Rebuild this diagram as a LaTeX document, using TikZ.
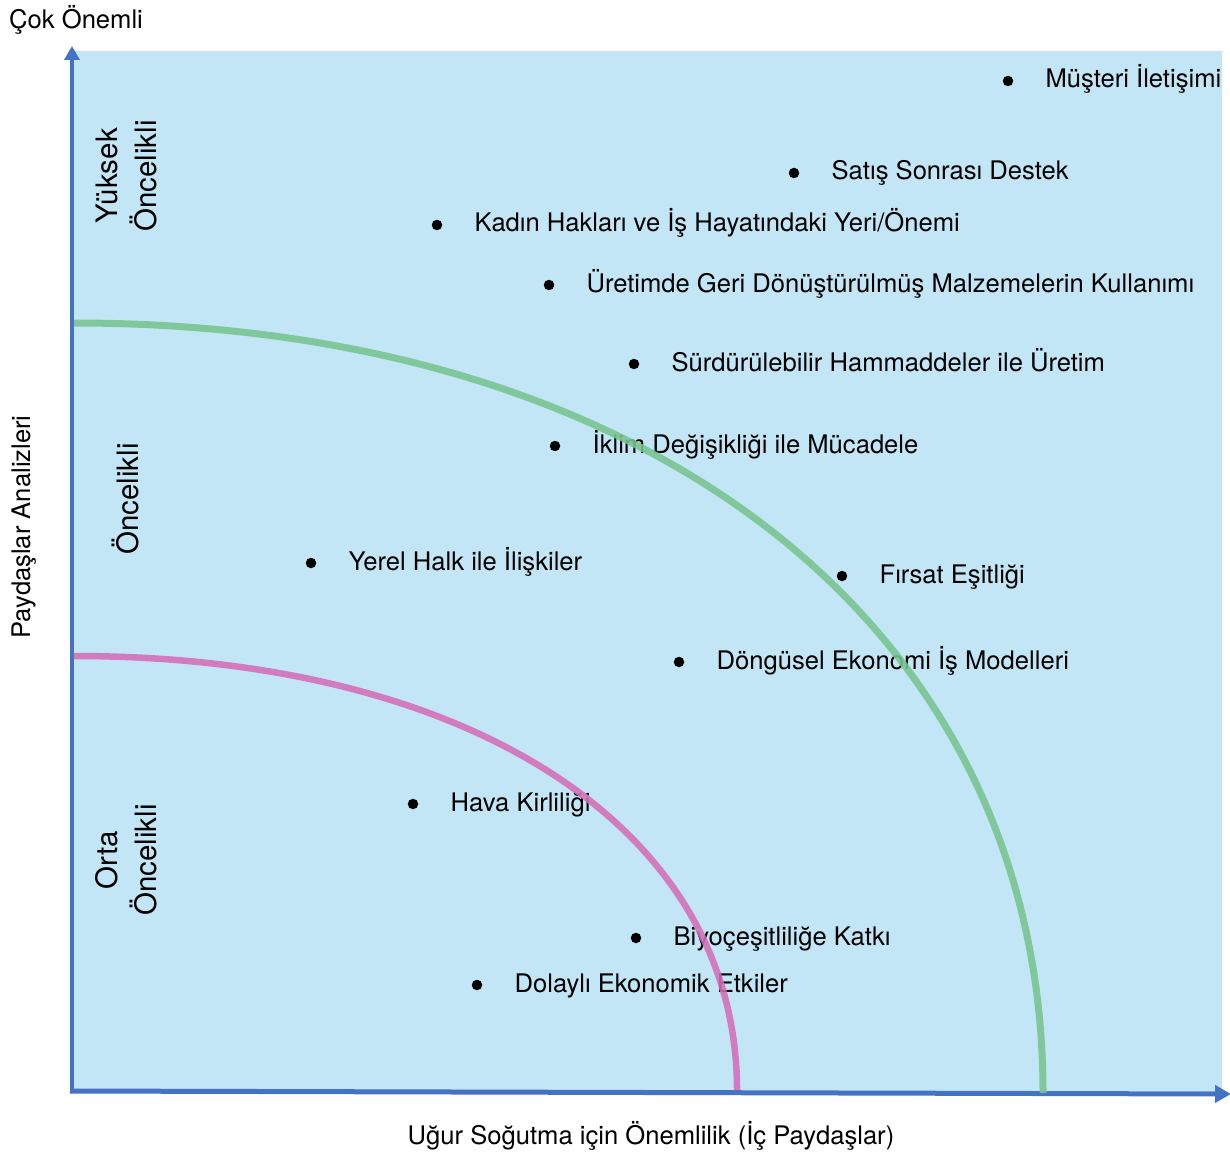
\documentclass[tikz,border=0pt]{standalone}
\usepackage{fontspec}
\setmainfont{TeX Gyre Heros}
\usetikzlibrary{positioning,arrows.meta}
\definecolor{matrisbg}{HTML}{C2E6F5}
\definecolor{eksenmavi}{HTML}{4472C4}
\definecolor{yesilyay}{HTML}{78C48F}
\definecolor{pembeyay}{HTML}{D56DB8}
\tikzset{
	nokta/.style={circle,fill=black,inner sep=0pt,minimum size=10.5pt},
	konu/.style={inner sep=0pt,text height=19pt,text depth=5pt},
	oncelik/.style={rotate=90,align=center,inner sep=0pt,font=\fontsize{29.5}{39}\selectfont},
	eksen/.style={eksenmavi,-{Triangle[length=14pt,width=15pt]}},
	yay/.style={line width=7pt,opacity=0.88}
}
\begin{document}
\begin{tikzpicture}[x=1pt, y=-1pt, font=\fontsize{25.6}{30}\selectfont]
	\useasboundingbox (0,0) rectangle (1230,1158);
	%background
	\fill[matrisbg] (72,51) rectangle (1222,1091);
	
	%axes
	\coordinate (O) at (72,1093);
	\coordinate (ytop) at (72,46);
	\coordinate (xstart) at (70,1091);
	\coordinate (xend) at (1231,1094);
	\draw[eksen, line width=3.5pt] (O) -- (ytop);
	\draw[eksen, line width=5pt, -{Triangle[length=16pt,width=17pt]}] (xstart) -- (xend);
	\node[anchor=base west, inner sep=0pt] (cok) at (9,29) {Çok Önemli};
	\node[anchor=base, inner sep=0pt] (xtitle) at (651,1144) {Uğur Soğutma için Önemlilik (İç Paydaşlar)};
	\node[rotate=90, anchor=base, inner sep=0pt] (ytitle) at (30,527) {Paydaşlar Analizleri};
	
	%priority bands
	\node[oncelik] (yuksek) at (127,176) {Yüksek\\Öncelikli};
	\node[oncelik] (oncelikli) at (125,499) {Öncelikli};
	\node[oncelik] (orta) at (126,860) {Orta\\Öncelikli};
	
	%topics
	\node[nokta] (musteri) at (1008,81) {};
	\node[konu, right=32pt of musteri] (musteriT) {Müşteri İletişimi};
	\node[nokta] (satis) at (794,173) {};
	\node[konu, right=32pt of satis] (satisT) {Satış Sonrası Destek};
	\node[nokta] (kadin) at (437,225) {};
	\node[konu, right=32pt of kadin] (kadinT) {Kadın Hakları ve İş Hayatındaki Yeri/Önemi};
	\node[nokta] (geri) at (549,285) {};
	\node[konu, right=32pt of geri] (geriT) {Üretimde Geri Dönüştürülmüş Malzemelerin Kullanımı};
	\node[nokta] (hammadde) at (634,364) {};
	\node[konu, right=32pt of hammadde] (hammaddeT) {Sürdürülebilir Hammaddeler ile Üretim};
	\node[nokta] (iklim) at (555,446) {};
	\node[konu, right=32pt of iklim] (iklimT) {İklim Değişikliği ile Mücadele};
	\node[nokta] (yerel) at (311,563) {};
	\node[konu, right=32pt of yerel] (yerelT) {Yerel Halk ile İlişkiler};
	\node[nokta] (firsat) at (842,576) {};
	\node[konu, right=32pt of firsat] (firsatT) {Fırsat Eşitliği};
	\node[nokta] (dongusel) at (679,662) {};
	\node[konu, right=32pt of dongusel] (donguselT) {Döngüsel Ekonomi İş Modelleri};
	\node[nokta] (hava) at (413,804) {};
	\node[konu, right=32pt of hava] (havaT) {Hava Kirliliği};
	\node[nokta] (biyo) at (636,938) {};
	\node[konu, right=32pt of biyo] (biyoT) {Biyoçeşitliliğe Katkı};
	\node[nokta] (dolayli) at (477,985) {};
	\node[konu, right=32pt of dolayli] (dolayliT) {Dolaylı Ekonomik Etkiler};
	
	%boundaries
	\coordinate (yesilA) at (74,323);
	\coordinate (yesilB) at (1043,1093);
	\draw[yay, yesilyay] (yesilA) .. controls (655,323) and (1043,631) .. (yesilB);
	\coordinate (pembeA) at (74,656);
	\coordinate (pembeB) at (737,1090);
	\draw[yay, pembeyay, line width=6.5pt] (pembeA) .. controls (472,656) and (737,830) .. (pembeB);
\end{tikzpicture}
\end{document}
